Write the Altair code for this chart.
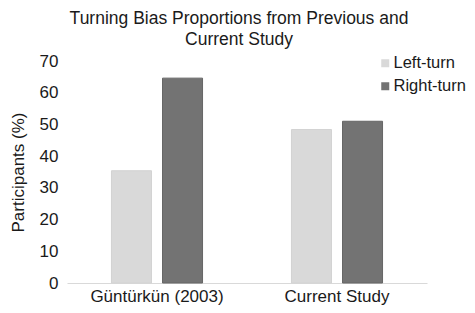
import altair as alt
import pandas as pd

groups = ["Güntürkün (2003)", "Güntürkün (2003)", "Current Study", "Current Study"]
turns = ["Left-turn", "Right-turn", "Left-turn", "Right-turn"]
values = [35.4, 64.6, 48.4, 51.0]

df = pd.DataFrame({"group": groups, "turn": turns, "value": values})

font = "Liberation Sans"
fs = 17
group_order = ["Güntürkün (2003)", "Current Study"]
turn_order = ["Left-turn", "Right-turn"]

chart = alt.Chart(df).mark_bar(strokeWidth=1).encode(
    x=alt.X("group:N", sort=group_order, title=None,
            scale=alt.Scale(paddingInner=0.494, paddingOuter=0.247),
            axis=alt.Axis(labelAngle=0, ticks=False, domainColor="#d9d9d9",
                          domainWidth=1, labelFontSize=fs, labelFont=font,
                          labelColor="#1a1a1a", labelPadding=5)),
    xOffset=alt.XOffset("turn:N", sort=turn_order,
                        scale=alt.Scale(paddingInner=0.216, paddingOuter=0)),
    y=alt.Y("value:Q", title="Participants (%)",
            scale=alt.Scale(domain=[0, 70]),
            axis=alt.Axis(values=[0, 10, 20, 30, 40, 50, 60, 70], grid=False,
                          domain=False, ticks=False, labelPadding=9,
                          labelFontSize=fs, labelFont=font, labelColor="#1a1a1a",
                          titleFontSize=fs, titleFont=font, titleFontWeight="normal",
                          titleColor="#1a1a1a", titlePadding=12)),
    color=alt.Color("turn:N", sort=turn_order, title=None,
                    scale=alt.Scale(domain=turn_order, range=["#d9d9d9", "#737373"]),
                    legend=alt.Legend(orient="none", legendX=310, legendY=-6,
                                      padding=0,
                                      symbolType="square", symbolSize=64,
                                      symbolStrokeWidth=0,
                                      labelFontSize=16.5, labelFont=font,
                                      labelColor="#1a1a1a", labelOffset=0,
                                      rowPadding=6)),
    stroke=alt.Stroke("turn:N", sort=turn_order, legend=None,
                      scale=alt.Scale(domain=turn_order, range=["#d3d3d3", "#666666"])),
).properties(
    width=360,
    height=222,
    title=alt.TitleParams(["Turning Bias Proportions from Previous and", "Current Study"],
                          font=font, fontSize=17.5, fontWeight="normal",
                          color="#1a1a1a", anchor="middle", offset=4, dx=-8,
                          lineHeight=21),
    autosize=alt.AutoSizeParams(type="none"),
    padding={"left": 59, "top": 53, "right": 40, "bottom": 22},
).configure_view(stroke=None)

chart.save("out.html", embed_options={"renderer": "svg", "actions": False})
